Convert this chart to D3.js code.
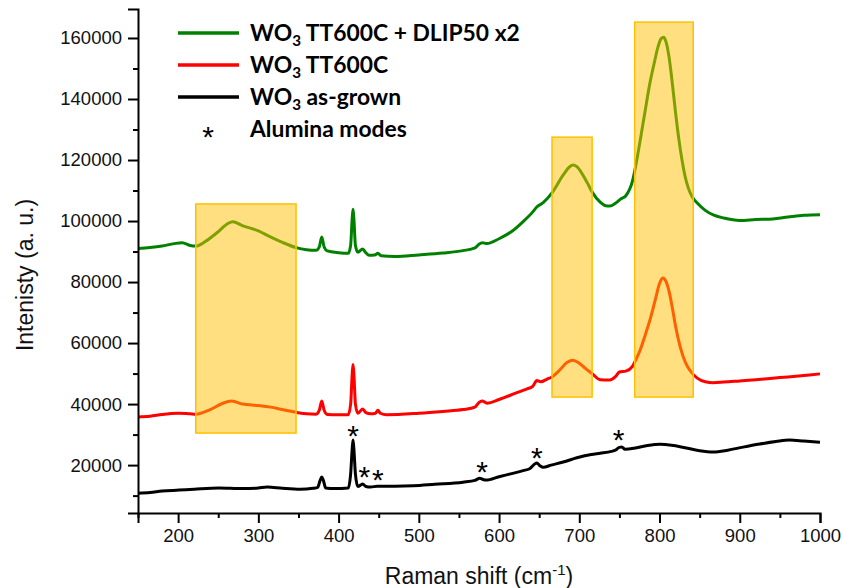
<!DOCTYPE html>
<html><head><meta charset="utf-8">
<script src="https://cdn.jsdelivr.net/npm/d3@7"></script>
<style>
html,body{margin:0;padding:0;background:#fff;}
svg{display:block;}
.arial{font-family:"Liberation Sans", Arial, Helvetica, sans-serif;}
</style></head>
<body>
<svg id="c" width="844" height="588"></svg>
<script>
// ---- data (Raman shift cm-1, intensity a.u.) ----
const greenShift = [150,165,180,195,205,215,222,235,250,262,268,280,300,315,330,347,360,372,376,379,382,386,400,412,415,417,418,419,421,424,430,434,438,445,449,453,470,500,530,555,570,575,579,585,600,617,630,642,647,655,666,680,688,692,697,703,710,716,726,733,738,745,752,758,766,771,776,782,788,794,798,802,805,808,812,816,820,824,828,832,836,841,847,857,867,880,900,920,941,960,980,1000];
const greenInt   = [91000,91300,91800,92600,92900,92000,91800,93500,96500,99200,99800,98500,96800,94800,93000,91300,90600,90400,91500,94800,91500,90200,89600,89400,92000,101000,103900,101000,92000,89800,90800,89600,88800,88900,89400,88600,88400,88900,89500,90300,91200,92400,92900,92600,94200,96800,99800,103000,104600,106000,109200,115100,117800,118400,117800,115700,112500,109500,106200,105000,104900,105800,107300,108300,112800,119000,126600,136000,145200,152500,157000,159800,160200,158800,153500,145000,135500,127000,120000,114500,110700,107800,105900,103500,102000,101000,100200,100500,100700,101300,101900,102100];

const redShift = [150,165,180,200,215,222,240,255,267,280,300,315,330,347,360,372,376,379,382,386,400,412,415,417,418,419,421,424,430,434,440,446,449,452,460,500,530,555,570,575,579,585,600,620,635,642,647,652,660,666,675,685,692,700,708,716,726,738,745,750,758,766,771,776,782,788,795,800,804,808,812,816,820,826,832,838,847,857,867,880,900,920,941,960,980,1000];
const redInt   = [35800,36000,36600,37000,36800,36700,38200,40200,41000,40000,39500,39000,38200,37300,36800,36700,38000,41000,38000,36600,36500,36500,40000,50000,53000,50000,40000,37000,38400,37200,36800,37000,38000,37000,36500,37000,37600,38200,39000,40500,41000,40300,41500,43500,45000,45800,47700,47300,48200,48900,51000,53700,54400,53400,51600,50000,48000,47900,49000,50500,50800,52300,54800,57800,62500,67500,74500,79500,81300,80200,76800,71500,65500,58500,53800,51000,48500,47300,47000,47200,47600,48000,48500,48900,49400,49900];

const blackShift = [150,165,180,201,220,251,280,300,311,330,352,368,374,377,379,381,384,395,412,415,417,418,419,421,424,430,434,440,448,470,493,520,555,570,576,580,584,600,617,630,638,644,647,651,655,665,680,697,715,726,740,745,750,753,757,770,785,801,815,830,850,867,885,904,925,945,962,980,1000];
const blackInt   = [10800,11000,11500,11800,12100,12500,12300,12500,12800,12400,12100,12400,12700,15000,16100,15000,12500,12300,12500,17000,25500,28200,25500,17000,13000,13800,13000,12800,13100,13100,13200,13700,14400,15000,15700,15300,15100,16200,17300,18200,18800,20300,20700,19800,19300,20000,21000,22400,23500,23900,24500,24900,25800,25900,25200,25600,26400,26800,26500,25800,24700,24300,24900,25900,26900,27700,28200,27900,27500];

// alumina mode markers
const aluminaShift = [418,432,449,579,647,749];
const aluminaInt   = [32100,18400,17400,20300,24900,30500];

// highlighted bands
const bandX0 = [222,666,769];
const bandX1 = [347,716,842];
const bandYLow  = [30500,42300,42300];
const bandYHigh = [105600,127500,165200];

const xMajorTicks = [200,300,400,500,600,700,800,900,1000];
const xMinorTicks = [150,250,350,450,550,650,750,850,950];
const yMajorTicks = [20000,40000,60000,80000,100000,120000,140000,160000];
const yMinorTicks = [10000,30000,50000,70000,90000,110000,130000,150000];

const seriesNames = ["TT600C + DLIP50 x2","TT600C","as-grown"];
const seriesColors = ["#008000","#ff0000","#000000"];

// ---- drawing ----
const svg = d3.select("#c");
const x = d3.scaleLinear().domain([150,1000]).range([138,820]);
const y = d3.scaleLinear().domain([4300,169500]).range([513,9]);

const series = [
  {shift: greenShift, val: greenInt, color: seriesColors[0]},
  {shift: redShift, val: redInt, color: seriesColors[1]},
  {shift: blackShift, val: blackInt, color: seriesColors[2]}
];
const line = d3.line().x(d=>x(d[0])).y(d=>y(d[1])).curve(d3.curveMonotoneX);
series.forEach(s=>{
  svg.append("path")
    .datum(s.shift.map((v,i)=>[v,s.val[i]]))
    .attr("d", line)
    .attr("fill","none")
    .attr("stroke", s.color)
    .attr("stroke-width", 3)
    .attr("stroke-linejoin","round");
});

bandX0.forEach((b,i)=>{
  svg.append("rect")
    .attr("x", x(bandX0[i]))
    .attr("y", y(bandYHigh[i]))
    .attr("width", x(bandX1[i]) - x(bandX0[i]))
    .attr("height", y(bandYLow[i]) - y(bandYHigh[i]))
    .attr("fill","#ffbf00")
    .attr("fill-opacity",0.5)
    .attr("stroke","#ffc000")
    .attr("stroke-width",1.5);
});

const astSize = 30;
aluminaShift.forEach((v,i)=>{
  svg.append("text").attr("class","arial")
    .attr("x", x(v)).attr("y", y(aluminaInt[i]) + astSize*0.58)
    .attr("text-anchor","middle")
    .attr("font-size", astSize)
    .attr("fill","#000")
    .text("*");
});

// axes
svg.append("g").attr("transform","translate(0,513)")
  .call(d3.axisBottom(x).tickValues(xMajorTicks).tickSize(10).tickPadding(6).tickFormat(d3.format("d")));
svg.append("g").attr("transform","translate(0,513)")
  .call(d3.axisBottom(x).tickValues(xMinorTicks).tickSize(5).tickFormat(""))
  .call(g=>g.select(".domain").remove());
svg.append("g").attr("transform","translate(138,0)")
  .call(d3.axisLeft(y).tickValues(yMajorTicks).tickSize(10).tickPadding(6).tickFormat(d3.format("d")));
svg.append("g").attr("transform","translate(138,0)")
  .call(d3.axisLeft(y).tickValues(yMinorTicks).tickSize(5).tickFormat(""))
  .call(g=>g.select(".domain").remove());
svg.selectAll(".domain").attr("stroke","#000").attr("stroke-width",2);
svg.selectAll(".tick line").attr("stroke","#000").attr("stroke-width",2);
svg.selectAll(".tick text").attr("class","arial").attr("font-family",null).attr("font-size",18.5).attr("fill","#111");
svg.selectAll("g").attr("font-family",null);

// axis titles
const xt = svg.append("text").attr("class","arial").attr("x",479).attr("y",584).attr("text-anchor","middle")
  .attr("font-size",23).attr("fill","#111");
xt.append("tspan").text("Raman shift (cm");
xt.append("tspan").attr("font-size",15).attr("dy",-9).text("-1");
xt.append("tspan").attr("dy",9).text(")");

svg.append("text").attr("class","arial").attr("transform","translate(33,275) rotate(-90)")
  .attr("text-anchor","middle").attr("font-size",23).attr("fill","#111")
  .text("Intenisty (a. u.)");

// legend
const legFont = "Lato, 'Open Sans', sans-serif";
const legY = [33,65,97];
const lg = svg.append("g");
seriesNames.forEach((n,i)=>{
  lg.append("line").attr("x1",178).attr("x2",239).attr("y1",legY[i]).attr("y2",legY[i])
    .attr("stroke",seriesColors[i]).attr("stroke-width",3.5);
  const t = lg.append("text").attr("class","legt").attr("x",250).attr("y",legY[i]+7.5)
    .attr("font-family",legFont).attr("font-weight","bold").attr("font-size",21).attr("fill","#000");
  t.append("tspan").text("WO");
  t.append("tspan").attr("class","sub").attr("font-size",14).attr("dy",5).text("3");
  t.append("tspan").attr("dy",-5).text(" " + n);
});
lg.append("text").attr("class","arial").attr("x",208).attr("y",130+30*0.58).attr("text-anchor","middle")
  .attr("font-size",30).text("*");
lg.append("text").attr("class","legt").attr("x",250).attr("y",137)
  .attr("font-family",legFont).attr("font-weight","bold").attr("font-size",21).attr("fill","#000")
  .text("Alumina modes");
const first = lg.select(".legt").node();
const k = 270 / first.getComputedTextLength();
lg.selectAll(".legt").attr("font-size", 21*k);
lg.selectAll(".sub").attr("font-size", 14*k);
</script>
</body></html>
